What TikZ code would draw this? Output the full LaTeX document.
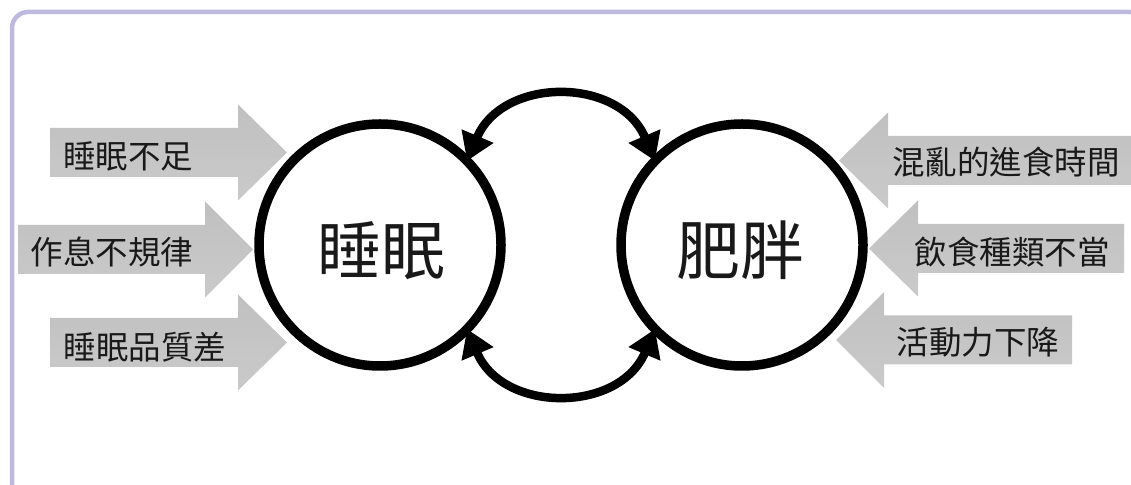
\documentclass[tikz,border=0pt]{standalone}
\usepackage{fontspec}
\newfontfamily\cjk{Noto Sans CJK TC}
\usetikzlibrary{arrows.meta}
\definecolor{framec}{RGB}{190,185,222}
\definecolor{arrowgray}{RGB}{202,202,202}
\definecolor{arrowgrayd}{RGB}{192,192,192}
\tikzset{
  frame/.style={draw=framec,line width=4.5pt,rounded corners=16pt},
  blockarrow/.style={top color=arrowgrayd,bottom color=arrowgray,draw=none},
  ring/.style={circle,draw=black,line width=9.5pt,minimum size=242pt,inner sep=0pt,outer sep=0pt},
  cause/.style={font=\cjk\fontsize{32.5}{36}\selectfont,text=black!90,inner sep=0pt},
  topic/.style={font=\cjk\fontsize{64}{70}\selectfont,text=black!90,inner sep=0pt},
  link/.style={line width=8.5pt,{Triangle[length=27pt,width=33pt]}-{Triangle[length=27pt,width=33pt]}}
}
% #1 body end, #2 head base, #3 tip, #4 centre y
\newcommand{\blockarr}[4]{%
  \path[blockarrow] ({#1},{#4+24.5}) -- ({#2},{#4+24.5}) -- ({#2},{#4+48}) -- ({#3},{#4})
    -- ({#2},{#4-48}) -- ({#2},{#4-24.5}) -- ({#1},{#4-24.5}) -- cycle;}
\begin{document}
\begin{tikzpicture}[x=1pt,y=1pt]
\useasboundingbox (0,0) rectangle (1131,484);
\begin{scope}
\clip (0,0) rectangle (1131,484);
\draw[frame] (12,-20) rectangle (1146,472);
\end{scope}
% block arrows, left side
\blockarr{50}{238}{287}{331.5}
\blockarr{18}{205}{253}{234.5}
\blockarr{50}{238}{287}{141.5}
% block arrows, right side
\blockarr{1135}{888}{839}{323.5}
\blockarr{1124}{918}{869}{235.5}
\blockarr{1072}{884}{836}{144}
% labels
\node[cause] (t1) at (128,328) {睡眠不足};
\node[cause] (t2) at (112,232) {作息不規律};
\node[cause] (t3) at (145,137) {睡眠品質差};
\node[cause] (r1) at (1006,322) {混亂的進食時間};
\node[cause] (r2) at (1012,232) {飲食種類不當};
\node[cause] (r3) at (978,142) {活動力下降};
% circles
\node[ring] (L) at (380,239) {};
\node[ring] (R) at (742,239) {};
\node[topic] (Lt) at (381,233) {睡眠};
\node[topic] (Rt) at (740,234) {肥胖};
% connecting arcs
\draw[link] (L.44) to[out=67,in=113,looseness=1.25] (R.136);
\draw[link] (L.-44) to[out=-67,in=-113,looseness=1.25] (R.-136);
\end{tikzpicture}
\end{document}
